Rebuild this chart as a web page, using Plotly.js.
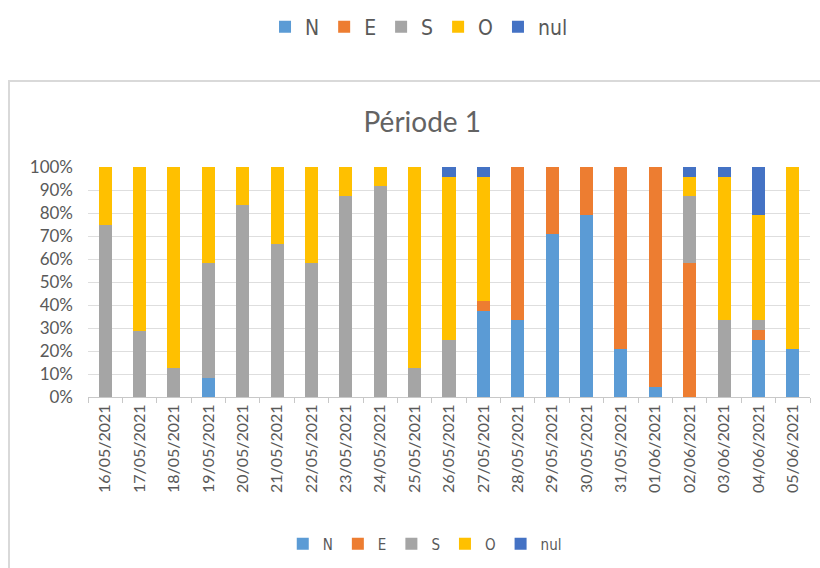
<!DOCTYPE html>
<html>
<head>
<meta charset="utf-8">
<script src="https://cdn.plot.ly/plotly-3.0.1.min.js"></script>
<style>
  body { margin: 0; background: #ffffff; }
  #wrap { position: relative; width: 820px; height: 568px; overflow: hidden; }
  #chart { position: absolute; left: 0; top: 0; width: 820px; height: 568px; }
  #frame { position: absolute; left: 8px; top: 80px; width: 840px; height: 520px;
           border: 2px solid #d9d9d9; pointer-events: none; }
</style>
</head>
<body>
<div id="wrap">
  <div id="chart"></div>
  <div id="frame"></div>
</div>
<script>
// Share of wind direction per day (percent of readings)
const dates = ['16/05/2021', '17/05/2021', '18/05/2021', '19/05/2021', '20/05/2021', '21/05/2021',
  '22/05/2021', '23/05/2021', '24/05/2021', '25/05/2021', '26/05/2021', '27/05/2021', '28/05/2021',
  '29/05/2021', '30/05/2021', '31/05/2021', '01/06/2021', '02/06/2021', '03/06/2021', '04/06/2021',
  '05/06/2021'];

const valuesN = [0, 0, 0, 8.3, 0, 0, 0, 0, 0, 0, 0, 37.5, 33.3, 70.8, 79.2, 20.8, 4.2, 0, 0, 25, 20.8];
const valuesE = [0, 0, 0, 0, 0, 0, 0, 0, 0, 0, 0, 4.2, 66.7, 29.2, 20.8, 79.2, 95.8, 58.3, 0, 4.2, 0];
const valuesS = [75, 28.6, 12.5, 50, 83.3, 66.7, 58.3, 87.5, 91.7, 12.5, 25, 0, 0, 0, 0, 0, 0, 29.2, 33.3, 4.2, 0];
const valuesO = [25, 71.4, 87.5, 41.7, 16.7, 33.3, 41.7, 12.5, 8.3, 87.5, 70.8, 54.1, 0, 0, 0, 0, 0, 8.3, 62.5, 45.8, 79.2];
const valuesNul = [0, 0, 0, 0, 0, 0, 0, 0, 0, 0, 4.2, 4.2, 0, 0, 0, 0, 0, 4.2, 4.2, 20.8, 0];

const series = [
  { name: 'N', y: valuesN, color: '#5b9bd5' },
  { name: 'E', y: valuesE, color: '#ed7d31' },
  { name: 'S', y: valuesS, color: '#a5a5a5' },
  { name: 'O', y: valuesO, color: '#ffc000' },
  { name: 'nul', y: valuesNul, color: '#4472c4' },
];

const traces = [];
series.forEach(s => {
  traces.push({
    x: dates,
    y: s.y,
    name: s.name,
    type: 'bar',
    marker: { color: s.color },
    legend: 'legend',
    hovertemplate: '%{x}<br>' + s.name + ': %{y}%<extra></extra>',
  });
});
// same series again, empty, only to fill the top legend
series.forEach(s => {
  traces.push({
    x: [dates[0]],
    y: [null],
    name: s.name,
    type: 'bar',
    marker: { color: s.color },
    legend: 'legend2',
    hoverinfo: 'skip',
  });
});

const gray = '#595959';
const font = 'Lato, sans-serif';
const narrow = '"DejaVu Sans Condensed", "Liberation Sans Narrow", sans-serif';

Plotly.newPlot('chart', traces, {
  barmode: 'stack',
  bargap: 0.62,
  title: {
    text: 'Période 1',
    font: { family: font, size: 28, color: '#636363' },
    xref: 'container', x: 0.515, xanchor: 'center',
    yref: 'container', y: 1 - 122 / 568, yanchor: 'middle',
  },
  xaxis: {
    type: 'category',
    tickangle: -90,
    tickfont: { family: font, size: 16, color: gray },
    showgrid: false,
    showline: true,
    linecolor: '#c8c8c8',
    ticks: 'outside',
    tickson: 'boundaries',
    ticklen: 5,
    tickcolor: '#c8c8c8',
    automargin: false,
  },
  yaxis: {
    range: [0, 100],
    dtick: 10,
    ticksuffix: '%',
    tickfont: { family: font, size: 17, color: gray },
    ticklabelstandoff: 14,
    gridcolor: '#dedede',
    gridwidth: 1,
    zeroline: false,
    showline: false,
    automargin: false,
  },
  legend: {
    orientation: 'h',
    xref: 'container', x: 0.518, xanchor: 'center',
    yref: 'container', y: 1 - 544 / 568, yanchor: 'middle',
    font: { family: narrow, size: 15, color: gray },
    itemwidth: 30,
    traceorder: 'normal',
  },
  legend2: {
    orientation: 'h',
    xref: 'container', x: 0.511, xanchor: 'center',
    yref: 'container', y: 1 - 27 / 568, yanchor: 'middle',
    font: { family: narrow, size: 21, color: gray },
    itemwidth: 30,
    traceorder: 'normal',
  },
  margin: { t: 167, r: 10, l: 88, b: 171 },
  paper_bgcolor: '#ffffff',
  plot_bgcolor: '#ffffff',
  showlegend: true,
}, { displayModeBar: false, responsive: false });
</script>
</body>
</html>
